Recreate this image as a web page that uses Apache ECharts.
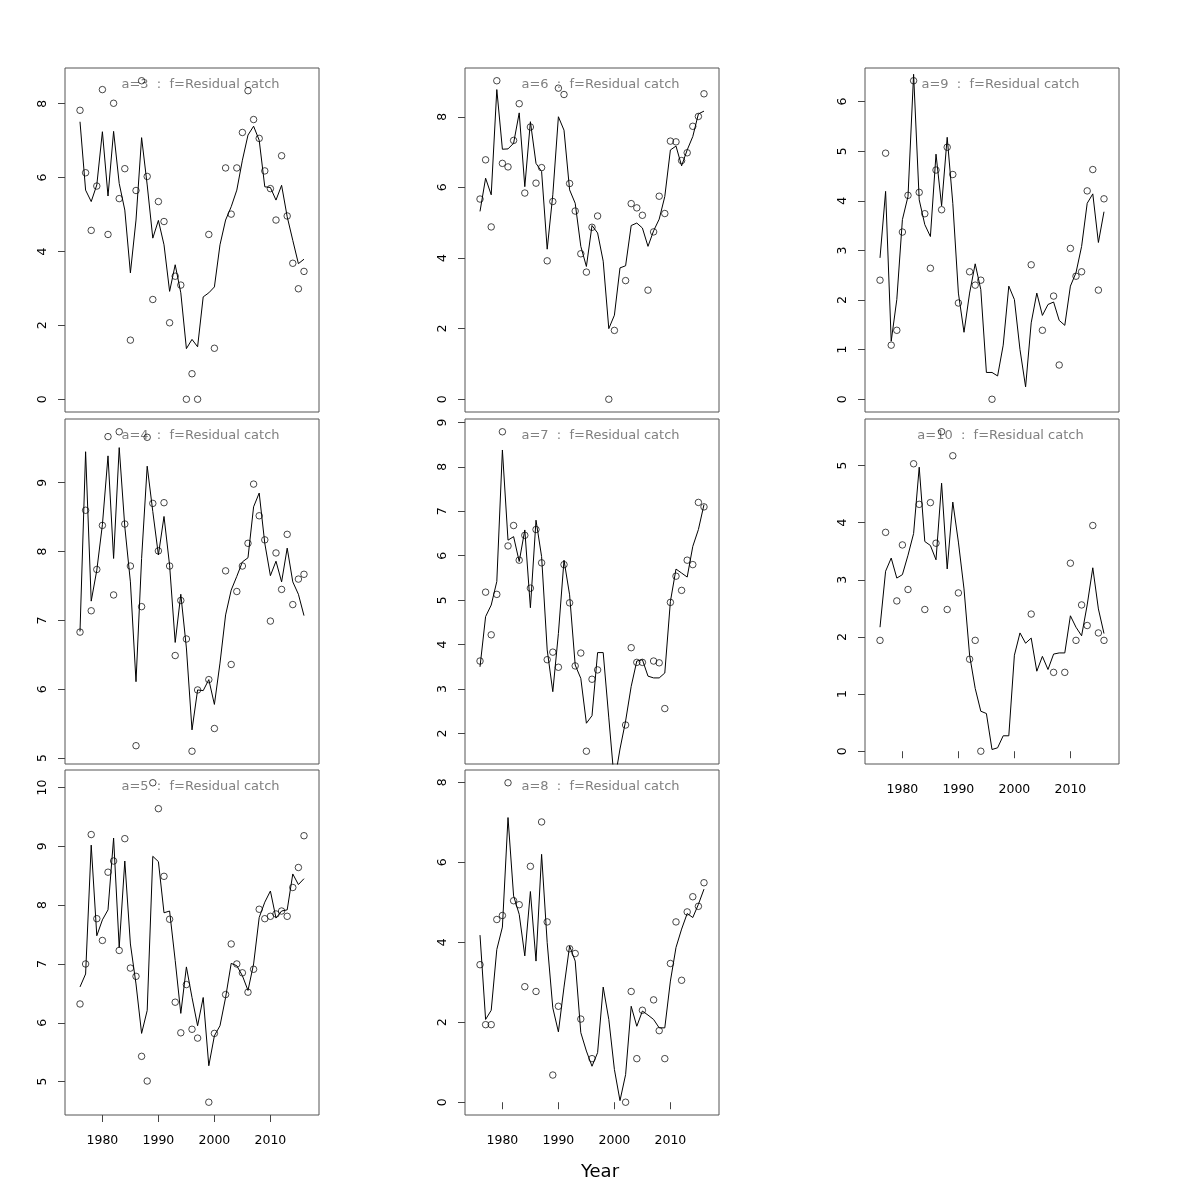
<!DOCTYPE html>
<html>
<head>
<meta charset="utf-8">
<script src="https://cdn.jsdelivr.net/npm/echarts@6/dist/echarts.min.js"></script>
<style>
html,body{margin:0;padding:0;background:#fff;}
#chart{width:1200px;height:1200px;}
</style>
</head>
<body>
<div id="chart"></div>
<script>
const years = [1976,1977,1978,1979,1980,1981,1982,1983,1984,1985,
  1986,1987,1988,1989,1990,1991,1992,1993,1994,1995,
  1996,1997,1998,1999,2000,2001,2002,2003,2004,2005,
  2006,2007,2008,2009,2010,2011,2012,2013,2014,2015,2016];
const xTicks = [1980,1990,2000,2010];

const obsA3 = [7.82,6.13,4.57,5.77,8.38,4.46,8.01,5.43,6.24,1.60,
  5.65,8.62,6.03,2.70,5.35,4.81,2.07,3.33,3.09,0.00,
  0.69,0.00,null,4.46,1.38,null,6.26,5.01,6.26,7.22,
  8.35,7.57,7.06,6.18,5.70,4.85,6.59,4.96,3.68,2.99,3.46];
const fitA3 = [7.51,5.66,5.35,5.80,7.24,5.50,7.25,5.84,5.12,3.42,
  4.85,7.08,5.80,4.36,4.84,4.18,2.92,3.64,2.88,1.37,
  1.62,1.42,2.77,2.88,3.04,4.18,4.85,5.21,5.66,6.47,
  7.15,7.39,7.01,5.75,5.73,5.39,5.79,4.94,4.30,3.67,3.79];

const obsA4 = [6.83,8.60,7.14,7.74,8.38,9.67,7.37,9.74,8.40,7.79,
  5.18,7.20,9.66,8.70,8.01,8.71,7.79,6.49,7.29,6.73,
  5.10,5.99,null,6.14,5.43,null,7.72,6.36,7.42,7.79,
  8.12,8.98,8.52,8.17,6.99,7.98,7.45,8.25,7.23,7.60,7.67];
const fitA4 = [6.84,9.45,7.28,7.73,8.39,9.39,7.90,9.51,8.36,7.56,
  6.11,7.90,9.24,8.58,7.95,8.51,7.80,6.68,7.38,6.60,
  5.41,5.99,5.98,6.14,5.78,6.38,7.08,7.44,7.64,7.85,
  7.91,8.65,8.85,8.12,7.65,7.86,7.56,8.05,7.56,7.38,7.07];

const obsA5 = [6.32,7.00,9.20,7.77,7.40,8.56,8.75,7.23,9.13,6.93,
  6.79,5.43,5.01,10.08,9.64,8.49,7.76,6.35,5.83,6.65,
  5.89,5.74,null,4.65,5.82,null,6.48,7.34,7.00,6.85,
  6.52,6.91,7.93,7.77,7.81,7.85,7.90,7.81,8.30,8.64,9.18];
const fitA5 = [6.61,6.83,9.02,7.48,7.75,7.92,9.14,7.28,8.75,7.34,
  6.66,5.82,6.21,8.83,8.74,7.87,7.90,7.06,6.16,6.95,
  6.43,5.95,6.43,5.27,5.78,5.95,6.43,7.01,6.97,6.80,
  6.55,7.00,7.79,8.05,8.24,7.78,7.90,7.92,8.53,8.35,8.45];

const obsA6 = [5.67,6.78,4.88,9.02,6.68,6.58,7.33,8.37,5.84,7.71,
  6.12,6.56,3.92,5.60,8.81,8.63,6.11,5.33,4.12,3.60,
  4.87,5.19,null,0.00,1.95,null,3.36,5.54,5.42,5.21,
  3.09,4.74,5.75,5.26,7.31,7.29,6.76,6.98,7.73,8.01,8.65];
const fitA6 = [5.32,6.26,5.79,8.77,7.08,7.09,7.25,8.11,6.02,7.86,
  6.68,6.45,4.25,5.79,8.00,7.62,5.93,5.55,4.33,3.76,
  4.92,4.71,3.91,2.00,2.38,3.72,3.78,4.92,4.99,4.85,
  4.33,4.77,5.10,5.74,7.06,7.17,6.61,7.06,7.44,8.08,8.16];

const obsA7 = [3.63,5.18,4.22,5.13,8.79,6.22,6.68,5.90,6.46,5.27,
  6.59,5.84,3.66,3.83,3.49,5.80,4.94,3.52,3.81,1.60,
  3.22,3.43,null,null,null,null,2.19,3.93,3.60,3.60,
  null,3.63,3.59,2.56,4.95,5.54,5.22,5.90,5.80,7.20,7.10];
const fitA7 = [3.50,4.63,4.89,5.42,8.38,6.35,6.43,5.87,6.58,4.83,
  6.80,5.98,3.88,2.94,4.25,5.90,5.12,3.54,3.24,2.23,
  2.40,3.82,3.82,2.35,0.90,1.65,2.28,3.06,3.63,3.66,
  3.29,3.25,3.25,3.36,4.97,5.70,5.61,5.52,6.21,6.59,7.15];

const obsA8 = [3.44,1.94,1.94,4.57,4.67,7.99,5.04,4.94,2.89,5.90,
  2.77,7.01,4.51,0.68,2.40,null,3.84,3.72,2.08,null,
  1.09,null,null,null,null,null,0.00,2.77,1.09,2.30,
  null,2.56,1.79,1.09,3.47,4.51,3.05,4.76,5.14,4.90,5.49];
const fitA8 = [4.18,2.07,2.30,3.82,4.38,7.12,5.16,4.70,3.66,5.27,
  3.53,6.20,3.99,2.36,1.76,2.88,3.91,3.53,1.74,1.28,
  0.90,1.24,2.88,2.07,0.82,0.04,0.69,2.40,1.90,2.28,
  2.18,2.07,1.86,1.86,3.03,3.87,4.33,4.72,4.62,4.95,5.33];

const obsA9 = [2.40,4.96,1.09,1.39,3.37,4.11,6.42,4.17,3.74,2.64,
  4.62,3.82,5.08,4.53,1.94,null,2.57,2.30,2.40,null,
  0.00,null,null,null,null,null,null,2.71,null,1.39,
  null,2.08,0.69,null,3.04,2.48,2.57,4.20,4.63,2.20,4.04];
const fitA9 = [2.85,4.19,1.17,2.01,3.62,4.09,6.55,4.02,3.52,3.28,
  4.94,3.90,5.28,3.95,2.14,1.35,2.14,2.73,2.21,0.54,
  0.54,0.47,1.09,2.28,2.01,1.00,0.25,1.54,2.14,1.69,
  1.91,1.96,1.59,1.49,2.28,2.55,3.08,3.95,4.14,3.16,3.78];

const obsA10 = [1.94,3.83,null,2.63,3.61,2.83,5.03,4.32,2.48,4.35,
  3.64,5.59,2.48,5.17,2.77,null,1.61,1.94,0.00,null,
  null,null,null,null,null,null,null,2.40,null,null,
  null,1.38,null,1.38,3.29,1.94,2.56,2.20,3.95,2.07,1.94];
const fitA10 = [2.17,3.15,3.38,3.03,3.09,3.43,3.81,4.97,3.67,3.60,
  3.35,4.69,3.19,4.36,3.66,2.84,1.68,1.10,0.70,0.66,
  0.03,0.06,0.27,0.27,1.68,2.07,1.89,1.98,1.40,1.66,
  1.43,1.70,1.72,1.72,2.37,2.17,2.02,2.56,3.21,2.49,2.06];

const yTicksA3 = [0,2,4,6,8];
const yTicksA4 = [5,6,7,8,9];
const yTicksA5 = [5,6,7,8,9,10];
const yTicksA6 = [0,2,4,6,8];
const yTicksA7 = [2,3,4,5,6,7,8,9];
const yTicksA8 = [0,2,4,6,8];
const yTicksA9 = [0,1,2,3,4,5,6];
const yTicksA10 = [0,1,2,3,4,5];

const panelLabels = ['a=3','a=4','a=5','a=6','a=7','a=8','a=9','a=10'];
const titleSuffix = '  :  f=Residual catch';
const xLabel = 'Year';

// layout (styling, not data)
const FONT = 'DejaVu Sans';
const colLeft = [65, 465, 865];
const rowTop = [68, 419, 770];
const rowH = [344, 345, 345];
const W = 254;
const xMin = 1973.32, xMax = 2018.68;

const panels = [
  {label: panelLabels[0], obs: obsA3, fit: fitA3, ticks: yTicksA3, col: 0, row: 0, xlab: false},
  {label: panelLabels[1], obs: obsA4, fit: fitA4, ticks: yTicksA4, col: 0, row: 1, xlab: false},
  {label: panelLabels[2], obs: obsA5, fit: fitA5, ticks: yTicksA5, col: 0, row: 2, xlab: true},
  {label: panelLabels[3], obs: obsA6, fit: fitA6, ticks: yTicksA6, col: 1, row: 0, xlab: false},
  {label: panelLabels[4], obs: obsA7, fit: fitA7, ticks: yTicksA7, col: 1, row: 1, xlab: false},
  {label: panelLabels[5], obs: obsA8, fit: fitA8, ticks: yTicksA8, col: 1, row: 2, xlab: true},
  {label: panelLabels[6], obs: obsA9, fit: fitA9, ticks: yTicksA9, col: 2, row: 0, xlab: false},
  {label: panelLabels[7], obs: obsA10, fit: fitA10, ticks: yTicksA10, col: 2, row: 1, xlab: true}
];

const grids = [], xAxes = [], yAxes = [], series = [], graphics = [];
panels.forEach((p, i) => {
  const left = colLeft[p.col], top = rowTop[p.row], h = rowH[p.row];
  grids.push({left: left, top: top, width: W, height: h, show: true,
    borderColor: '#555', borderWidth: 1, backgroundColor: 'transparent'});
  const vals = p.obs.filter(v => v !== null);
  const lo = Math.min.apply(null, vals), hi = Math.max.apply(null, vals);
  const pad = 0.04 * (hi - lo);
  xAxes.push({
    gridIndex: i, type: 'value', min: xMin, max: xMax,
    axisLine: {show: false}, splitLine: {show: false},
    axisTick: {show: p.xlab, length: 7, customValues: xTicks, lineStyle: {color: '#444', width: 1}},
    axisLabel: {show: p.xlab, customValues: xTicks, margin: 19, fontSize: 12.5,
      color: '#000', fontFamily: FONT, formatter: v => String(v)}
  });
  yAxes.push({
    gridIndex: i, type: 'value', min: lo - pad, max: hi + pad,
    axisLine: {show: false}, splitLine: {show: false},
    axisTick: {show: true, length: 7, customValues: p.ticks, lineStyle: {color: '#444', width: 1}},
    axisLabel: {show: true, customValues: p.ticks, rotate: 90, margin: 16, fontSize: 12.5,
      color: '#000', fontFamily: FONT, formatter: v => String(v)}
  });
  series.push({
    type: 'line', xAxisIndex: i, yAxisIndex: i,
    data: years.map((y, k) => [y, p.fit[k]]),
    symbol: 'none', silent: true, clip: true,
    lineStyle: {color: '#000', width: 1}
  });
  series.push({
    type: 'scatter', xAxisIndex: i, yAxisIndex: i,
    data: years.map((y, k) => [y, p.obs[k]]).filter(d => d[1] !== null),
    symbol: 'circle', symbolSize: 6.5, silent: true,
    itemStyle: {color: 'rgba(0,0,0,0)', borderColor: '#000', borderWidth: 0.9}
  });
  graphics.push({
    type: 'text', x: left + 135.5, y: top + 16.5,
    style: {text: p.label + titleSuffix, fill: '#808080', font: '13px "DejaVu Sans"',
      align: 'center', verticalAlign: 'middle'}
  });
});
graphics.push({
  type: 'text', x: 600, y: 1172,
  style: {text: xLabel, fill: '#000', font: '18px "DejaVu Sans"', align: 'center', verticalAlign: 'middle'}
});

const chart = echarts.init(document.getElementById('chart'), null, {renderer: 'canvas'});
chart.setOption({
  backgroundColor: '#fff',
  animation: false,
  textStyle: {fontFamily: FONT},
  grid: grids,
  xAxis: xAxes,
  yAxis: yAxes,
  series: series,
  graphic: graphics
});
</script>
</body>
</html>
